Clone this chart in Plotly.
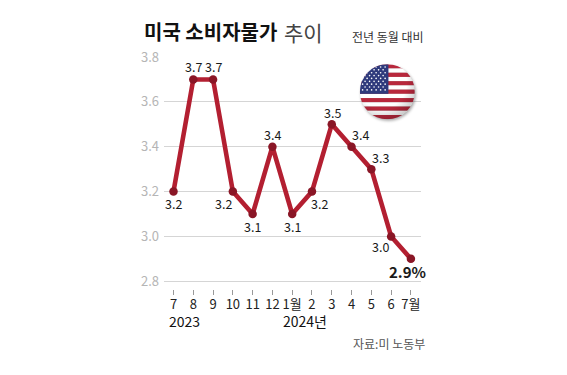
import base64
import plotly.graph_objects as go

months = ["7", "8", "9", "10", "11", "12", "1월", "2", "3", "4", "5", "6", "7월"]
values = [3.2, 3.7, 3.7, 3.2, 3.1, 3.4, 3.1, 3.2, 3.5, 3.4, 3.3, 3.0, 2.9]
labels = ["3.2", "3.7", "3.7", "3.2", "3.1", "3.4", "3.1", "3.2", "3.5", "3.4", "3.3", "3.0", "2.9%"]
label_dx = [0, 0, 0, -9, 0, 0, 0, 8, 1, 9, 9, -11, -3]
label_dy = [12, -13, -13, 12, 12, -12, 12, 12, -12, -12, -12, 10, 13]
y_ticks = [2.8, 3.0, 3.2, 3.4, 3.6, 3.8]
x_idx = list(range(len(months)))

# The page body adds an 8px margin, so the figure is 8px smaller and all page coordinates shift by 8.
OFF = 8
W, H = 567 - OFF, 375 - OFF
L, R, T, B = 163.5, 420.7, 57.3, 289
PW, PH = R - L, B - T
FONT = "Noto Sans CJK KR"

stripes = "".join(
    f'<rect x="0" y="{i*100/13:.2f}" width="100" height="{100/13:.2f}" fill="{"#b8283c" if i%2==0 else "#ffffff"}"/>'
    for i in range(13))
stars = ""
for r in range(9):
    n = 6 if r % 2 == 0 else 5
    off = 5 if r % 2 == 0 else 9.5
    for c in range(n):
        stars += f'<circle cx="{off+c*8.2:.1f}" cy="{5+r*5.2:.1f}" r="1.5" fill="#fff"/>'
svg = f'''<svg xmlns="http://www.w3.org/2000/svg" width="120" height="120" viewBox="-10 -10 120 120">
<defs><clipPath id="c"><circle cx="50" cy="50" r="50"/></clipPath>
<filter id="s" x="-20%" y="-20%" width="140%" height="140%"><feGaussianBlur stdDeviation="2.5"/></filter>
<radialGradient id="g" cx="40%" cy="35%" r="75%"><stop offset="60%" stop-color="#000" stop-opacity="0"/><stop offset="100%" stop-color="#000" stop-opacity="0.28"/></radialGradient></defs>
<circle cx="52" cy="53" r="50" fill="#000" opacity="0.35" filter="url(#s)"/>
<g clip-path="url(#c)">{stripes}<rect x="0" y="0" width="52" height="53.8" fill="#2f3a7c"/>{stars}<circle cx="50" cy="50" r="50" fill="url(#g)"/></g>
</svg>'''
flag = "data:image/svg+xml;base64," + base64.b64encode(svg.encode()).decode()

fig = go.Figure()
fig.add_trace(go.Scatter(
    x=x_idx, y=values, mode="lines+markers", hoverinfo="skip",
    line=dict(color="#b31f31", width=4.6),
    marker=dict(color="#8a1626", size=8.5),
    cliponaxis=False,
))

ann = []
for i, (v, t, dx, dy) in enumerate(zip(values, labels, label_dx, label_dy)):
    last = i == len(values) - 1
    ann.append(dict(
        x=i, y=v, xref="x", yref="y", text=f"<b>{t}</b>" if last else t,
        showarrow=False, xshift=dx, yshift=-dy, xanchor="center", yanchor="middle",
        font=dict(family=FONT, size=15 if last else 12.5, color="#1a1a1a"),
    ))


def txt(x, y, text, size, color="#222", anchor="left"):
    ann.append(dict(x=(x - L) / PW, y=(B - y) / PH, xref="paper", yref="paper", text=text, showarrow=False,
                    xanchor=anchor, yanchor="middle", font=dict(family=FONT, size=size, color=color)))


flag_size = 66
fig.update_layout(
    width=W, height=H, autosize=False, showlegend=False,
    paper_bgcolor="#ffffff", plot_bgcolor="rgba(0,0,0,0)",
    margin=dict(l=L - OFF, r=567 - R, t=T - OFF, b=375 - B, pad=0),
    font=dict(family=FONT),
    xaxis=dict(range=[(L - 173) / 19.8, (R - 173) / 19.8], tickmode="array", tickvals=x_idx, ticktext=months,
               showgrid=False, zeroline=False, showline=False, ticks="outside", ticklen=5, tickwidth=1,
               tickcolor="#999999", ticklabelstandoff=-2,
               tickfont=dict(family=FONT, size=13, color="#222"), tickangle=0),
    yaxis=dict(range=[2.8 - (B - 281.3) / 224, 3.8], tickmode="array", tickvals=y_ticks,
               ticktext=[f"{v:.1f}" for v in y_ticks], showgrid=True, gridcolor="#d5d5d5", gridwidth=1,
               zeroline=False, showline=False, ticks="", ticklabelstandoff=4,
               tickfont=dict(family=FONT, size=13, color="#b5b5b5")),
    images=[dict(source=flag, xref="paper", yref="paper", xanchor="center", yanchor="middle",
                 x=(387 - L) / PW, y=(B - 92) / PH, sizex=flag_size / PW, sizey=flag_size / PH,
                 sizing="contain", layer="above")],
)

txt(141, 32, "<b>미국 소비자물가</b>", 20, "#111")
txt(282, 32, "추이", 21, "#444")
txt(426, 37, "전년 동월 대비", 12, "#333", "right")
txt(167, 321, "2023", 14, "#111")
txt(281, 321, "2024년", 14, "#111")
txt(427, 343, "자료:미 노동부", 12, "#555", "right")
fig.update_layout(annotations=ann)

fig.write_html("out.html")
